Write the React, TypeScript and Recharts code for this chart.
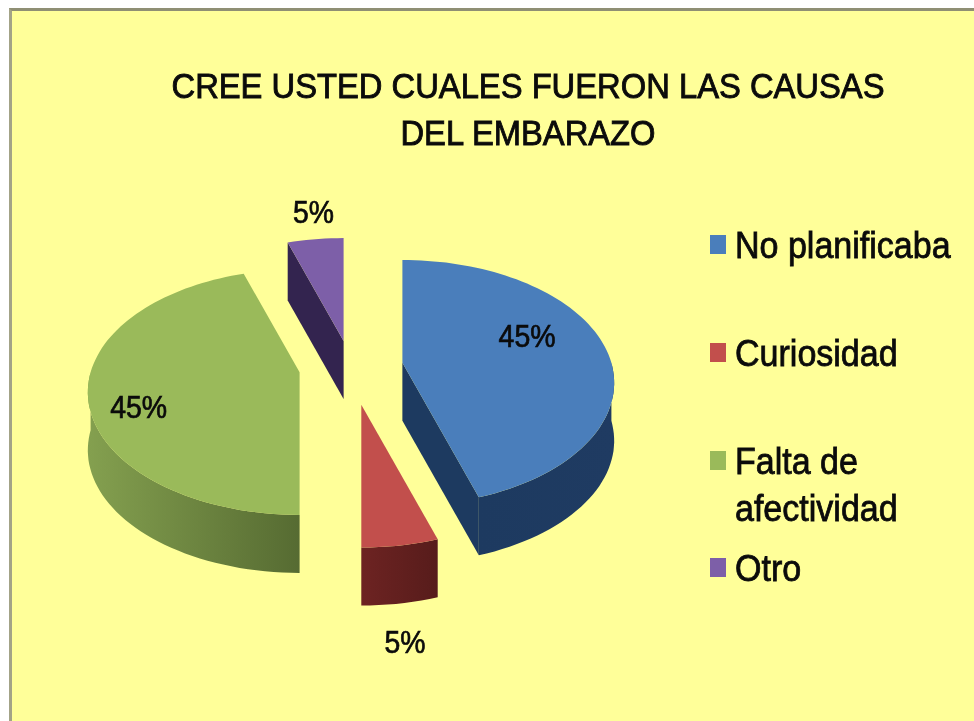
import React from "react";
import { PieChart, Pie, Legend } from "recharts";

const categories = ["No planificaba", "Curiosidad", "Falta de afectividad", "Otro"];
const percentages = [45, 5, 45, 5];
const titleLines = ["CREE USTED CUALES FUERON LAS CAUSAS", "DEL EMBARAZO"];

const topColors = ["#4a7ebb", "#c24f4c", "#9aba5a", "#7d5fa8"];
const wallColorsFrom = ["#1d3a60", "#6d2322", "#84a04f", "#33244f"];
const wallColorsTo = ["#1f3b62", "#571c1b", "#566b32", "#33244f"];

// how far each slice is pulled out of the pie, and where its label sits
const explode = [52, 66, 52, 47];
const labelRadius = [0.635, 2.0, 0.825, 1.08];
const labelTurn = [-11, 3, -12, 1.3];
const titleWidths = [713, 255];

const tableData = categories.map((name, i) => ({
  name,
  value: percentages[i],
  fill: topColors[i],
}));

const TILT = 0.572;
const PERSPECTIVE = 0.1625;
const DEPTH = 58;
const FONT = "'Liberation Sans', Arial, sans-serif";
const INK = "#0b0b0b";

const rad = (deg: number) => (deg * Math.PI) / 180;

// a = degrees clockwise from the top of the pie
function project(ox: number, oy: number, r: number, a: number) {
  const front = -Math.cos(rad(a));
  const s = 1 / (1 - PERSPECTIVE * front);
  return { x: ox + r * Math.sin(rad(a)) * s, y: oy + r * TILT * front * s };
}

function toPath(points: { x: number; y: number }[]) {
  return points.map((p, i) => `${i ? "L" : "M"}${p.x.toFixed(1)},${p.y.toFixed(1)}`).join(" ") + " Z";
}

function arcPoints(ox: number, oy: number, r: number, from: number, to: number) {
  const pts = [];
  const steps = Math.max(2, Math.ceil((to - from) / 2));
  for (let i = 0; i <= steps; i++) pts.push(project(ox, oy, r, from + ((to - from) * i) / steps));
  return pts;
}

const down = (p: { x: number; y: number }) => ({ x: p.x, y: p.y + DEPTH });

function slicePosition(props: any) {
  const start = 90 - props.startAngle;
  const end = 90 - props.endAngle;
  const mid = (start + end) / 2;
  const e = explode[props.index ?? categories.indexOf(props.name)];
  return {
    start,
    end,
    mid,
    ox: props.cx + e * Math.sin(rad(mid)),
    oy: props.cy - e * TILT * Math.cos(rad(mid)),
  };
}

function Slice3D(props: any) {
  const i = props.index ?? categories.indexOf(props.name);
  const r = props.outerRadius;
  const { start, end, ox, oy } = slicePosition(props);
  const apex = { x: ox, y: oy };
  const startPt = project(ox, oy, r, start);
  const endPt = project(ox, oy, r, end);

  const from = Math.max(start, 90);
  const to = Math.min(end, 270);
  const outer = from < to ? arcPoints(ox, oy, r, from, to) : [];

  // cut faces: only the ones turned towards the viewer get drawn
  const cuts: { x: number; y: number }[][] = [];
  if (Math.cos(rad(start - 90)) < -0.01) cuts.push([apex, startPt, down(startPt), down(apex)]);
  if (Math.cos(rad(end + 90)) < -0.01) cuts.push([apex, endPt, down(endPt), down(apex)]);

  return (
    <g>
      {cuts.map((c, k) => (
        <path key={k} d={toPath(c)} fill={wallColorsFrom[i]} />
      ))}
      {outer.length > 0 && (
        <path d={toPath([...outer, ...outer.map(down).reverse()])} fill={`url(#wall${i})`} />
      )}
      <path d={toPath([apex, ...arcPoints(ox, oy, r, start, end)])} fill={topColors[i]} />
    </g>
  );
}

function renderLabel(props: any) {
  const i = props.index;
  const { mid, ox, oy } = slicePosition(props);
  const a = rad(mid + labelTurn[i]);
  const k = labelRadius[i] * props.outerRadius;
  return (
    <text
      x={ox + k * Math.sin(a)}
      y={oy - k * TILT * Math.cos(a)}
      textAnchor="middle"
      dominantBaseline="central"
      fontFamily={FONT}
      fontSize={31}
      textLength={percentages[i] > 9 ? 57 : 41}
      lengthAdjust="spacingAndGlyphs"
      fill={INK}
      stroke={INK}
      strokeWidth={0.7}
    >
      {`${percentages[i]}%`}
    </text>
  );
}

const rowGaps = [61, 61, 13, 0];

function LegendList({ payload }: any) {
  return (
    <div style={{ fontFamily: FONT, fontSize: 36, lineHeight: "47px", color: INK, WebkitTextStroke: `0.8px ${INK}` }}>
      {(payload || []).map((entry: any, i: number) => (
        <div key={i} style={{ display: "flex", marginBottom: rowGaps[i] }}>
          <div style={{ width: 16, height: 19, marginTop: 13, marginRight: 9, flexShrink: 0, background: topColors[i] }} />
          <div style={{ width: 236, transform: "scaleX(0.945)", transformOrigin: "left top" }}>{entry.value}</div>
        </div>
      ))}
    </div>
  );
}

export default function App() {
  return (
    <div style={{ position: "absolute", left: 0, top: 0, width: 974, height: 721, background: "#fff", overflow: "hidden" }}>
      <div
        style={{
          position: "absolute",
          left: 9,
          top: 8,
          width: 965,
          height: 713,
          boxSizing: "border-box",
          background: "#ffff99",
          borderTop: "3px solid #8f8f74",
          borderLeft: "3px solid #a3a387",
        }}
      />
      <PieChart
        width={974}
        height={721}
        margin={{ top: 0, right: 0, bottom: 0, left: 0 }}
        style={{ position: "absolute", left: 0, top: 0, filter: "blur(0.5px)" }}
      >
        <defs>
          {categories.map((_, i) => (
            <linearGradient key={i} id={`wall${i}`} x1="0" y1="0" x2="1" y2="0">
              <stop offset="0%" stopColor={wallColorsFrom[i]} />
              <stop offset="100%" stopColor={wallColorsTo[i]} />
            </linearGradient>
          ))}
        </defs>
        {titleLines.map((line, i) => (
          <text
            key={line}
            x={528}
            y={98 + i * 47}
            textAnchor="middle"
            fontFamily={FONT}
            fontSize={35}
            textLength={titleWidths[i]}
            lengthAdjust="spacingAndGlyphs"
            fill={INK}
            stroke={INK}
            strokeWidth={0.9}
          >
            {line}
          </text>
        ))}
        <Pie
          data={tableData}
          dataKey="value"
          nameKey="name"
          cx={351}
          cy={367.5}
          outerRadius={209}
          startAngle={90}
          endAngle={-270}
          stroke="none"
          shape={Slice3D}
          label={renderLabel}
          labelLine={false}
          isAnimationActive={false}
        />
        <Legend
          layout="vertical"
          align="right"
          verticalAlign="middle"
          itemSorter={(entry: any) => categories.indexOf(entry.value)}
          content={<LegendList />}
          wrapperStyle={{ left: 710, top: 222, width: 262 }}
        />
      </PieChart>
    </div>
  );
}
